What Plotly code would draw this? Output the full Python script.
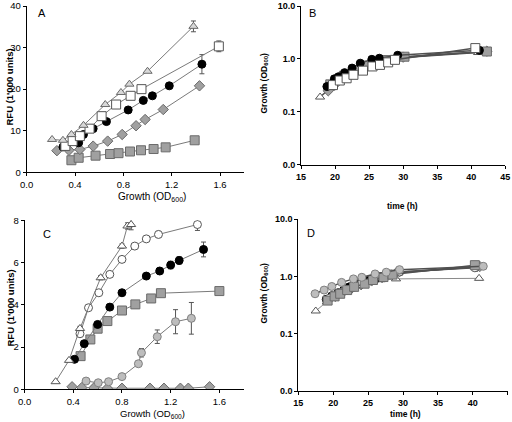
import plotly.graph_objects as go

# ---------------- Panel A: RFU vs growth ----------------
a_tri_x = [0.21, 0.30, 0.37, 0.47, 0.65, 0.78, 0.85, 1.00, 1.38]
a_tri_y = [7.9, 7.7, 9.1, 11.3, 16.3, 19.2, 21.2, 24.3, 35.1]
a_tri_e = [0, 0, 0, 0, 0, 0, 0, 0, 1.3]

a_osq_x = [0.32, 0.38, 0.44, 0.52, 0.62, 0.74, 0.86, 0.95, 1.59]
a_osq_y = [6.35, 7.5, 8.7, 10.5, 13.5, 16.3, 18.4, 20.0, 30.3]
a_osq_e = [0, 0, 0, 0, 0, 0, 0, 0, 1.3]

a_blk_x = [0.30, 0.43, 0.47, 0.55, 0.66, 0.84, 0.965, 1.04, 1.18, 1.45]
a_blk_y = [6.1, 7.1, 9.1, 10.5, 12.2, 15.0, 17.3, 18.4, 20.8, 26.0]
a_blk_e = [0, 0, 0, 0, 0, 0, 0, 0, 0, 2.3]

a_dia_x = [0.25, 0.35, 0.44, 0.55, 0.67, 0.79, 0.905, 0.98, 1.13, 1.43]
a_dia_y = [5.2, 5.3, 5.5, 6.3, 7.5, 9.1, 11.2, 12.7, 15.1, 20.8]

a_gsq_x = [0.37, 0.43, 0.57, 0.69, 0.76, 0.855, 0.946, 1.05, 1.15, 1.39]
a_gsq_y = [2.9, 3.5, 4.0, 4.4, 4.6, 5.0, 5.3, 5.6, 6.0, 7.7]

# ---------------- Panel B: growth vs time ----------------
b_tri_t = [17.8, 19.3, 20.5, 22.0, 23.5, 25.0, 27.0, 29.5, 41.0]
b_tri_y = [0.19, 0.28, 0.36, 0.47, 0.60, 0.72, 0.88, 1.05, 1.32]
b_osq_t = [19.7, 20.7, 21.7, 22.7, 24.1, 25.5, 26.6, 27.8, 28.8, 40.6]
b_osq_y = [0.32, 0.39, 0.43, 0.50, 0.60, 0.72, 0.77, 0.86, 0.96, 1.60]
b_blk_t = [18.8, 19.9, 20.5, 21.4, 22.5, 23.7, 25.4, 26.5, 29.2, 41.2]
b_blk_y = [0.30, 0.42, 0.46, 0.55, 0.67, 0.83, 0.98, 1.03, 1.17, 1.45]
b_dia_t = [19.0, 20.0, 21.0, 22.3, 23.5, 25.0, 27.0, 30.0, 42.3]
b_dia_y = [0.25, 0.33, 0.42, 0.52, 0.65, 0.78, 0.90, 1.08, 1.40]
b_gsq_t = [19.3, 20.2, 21.3, 22.8, 24.5, 26.0, 27.5, 30.2, 42.3]
b_gsq_y = [0.33, 0.40, 0.48, 0.60, 0.75, 0.85, 0.95, 1.10, 1.38]

# ---------------- Panel C: RFU vs growth ----------------
c_tri_x = [0.255, 0.365, 0.455, 0.625, 0.80, 0.845, 0.875]
c_tri_y = [0.36, 1.37, 2.88, 5.28, 6.78, 7.73, 7.80]
c_tri_e = [0, 0, 0.1, 0.1, 0.1, 0.15, 0.25]

c_oci_x = [0.455, 0.525, 0.61, 0.70, 0.80, 0.905, 1.00, 1.10, 1.42]
c_oci_y = [2.63, 3.86, 4.57, 5.44, 6.15, 6.78, 7.12, 7.33, 7.80]
c_oci_e = [0.1, 0.1, 0.1, 0.12, 0.12, 0.12, 0.12, 0.15, 0.28]

c_blk_x = [0.41, 0.49, 0.60, 0.70, 0.80, 1.00, 1.11, 1.20, 1.27, 1.47]
c_blk_y = [1.42, 2.16, 3.07, 3.89, 4.57, 5.36, 5.60, 5.88, 6.10, 6.62]
c_blk_e = [0, 0, 0, 0, 0, 0.1, 0.15, 0.18, 0.18, 0.35]

c_gsq_x = [0.46, 0.54, 0.60, 0.68, 0.80, 0.91, 1.04, 1.12, 1.60]
c_gsq_y = [1.57, 2.36, 2.87, 3.23, 3.73, 4.02, 4.30, 4.55, 4.65]

c_gci_x = [0.505, 0.605, 0.69, 0.80, 0.935, 0.96, 1.09, 1.24, 1.37]
c_gci_y = [0.39, 0.31, 0.36, 0.60, 1.21, 1.73, 2.49, 3.20, 3.36]
c_gci_e = [0, 0, 0, 0, 0, 0.2, 0.32, 0.57, 0.75]

c_dia_x = [0.39, 0.47, 0.57, 0.68, 0.80, 1.03, 1.145, 1.28, 1.345, 1.52]
c_dia_y = [0.12, 0.08, 0.07, 0.05, 0.05, 0.05, 0.05, 0.05, 0.05, 0.12]

# ---------------- Panel D: growth vs time ----------------
d_gci_t = [17.4, 18.7, 19.8, 21.2, 22.9, 24.1, 26.0, 27.6, 29.5, 41.5]
d_gci_y = [0.50, 0.58, 0.67, 0.79, 0.91, 0.97, 1.11, 1.19, 1.32, 1.51]
d_tri_t = [17.5, 19.1, 20.0, 21.5, 23.0, 25.0, 26.8, 29.0, 40.9]
d_tri_y = [0.25, 0.36, 0.45, 0.55, 0.68, 0.80, 0.88, 0.91, 0.93]
d_blk_t = [19.0, 19.8, 20.7, 21.5, 22.3, 23.5, 25.0, 26.5, 28.0, 29.5, 40.5]
d_blk_y = [0.40, 0.46, 0.52, 0.58, 0.66, 0.75, 0.85, 0.95, 1.08, 1.20, 1.45]
d_gsq_t = [19.2, 20.2, 21.0, 22.0, 23.0, 24.5, 25.7, 27.2, 28.5, 40.3]
d_gsq_y = [0.38, 0.45, 0.50, 0.58, 0.66, 0.75, 0.87, 0.98, 1.08, 1.58]
d_oci_t = [19.5, 20.5, 21.7, 22.8, 24.0, 25.5, 27.0, 28.3, 29.5, 40.3]
d_oci_y = [0.42, 0.48, 0.56, 0.64, 0.74, 0.85, 0.97, 1.10, 1.20, 1.42]
d_dia_t = [19.3, 20.3, 21.2, 22.5, 24.0, 25.5, 27.0, 29.0, 41.0]
d_dia_y = [0.40, 0.45, 0.52, 0.60, 0.72, 0.84, 0.96, 1.15, 1.50]

LINE = "#7a7a7a"
GRAY = "#a0a0a0"
GRAY_EDGE = "#6a6a6a"
LGRAY = "#bdbdbd"

STYLES = {
    "tri": dict(symbol="triangle-up", size=8, color="#d8d8d8", line=dict(color="#6a6a6a", width=1)),
    "tri_open": dict(symbol="triangle-up", size=8, color="white", line=dict(color="#555555", width=1)),
    "osq": dict(symbol="square", size=9, color="white", line=dict(color="#555555", width=1)),
    "blk": dict(symbol="circle", size=8, color="black", line=dict(color="black", width=1)),
    "dia": dict(symbol="diamond", size=8, color=GRAY, line=dict(color=GRAY_EDGE, width=1)),
    "gsq": dict(symbol="square", size=9, color=GRAY, line=dict(color=GRAY_EDGE, width=1)),
    "oci": dict(symbol="circle", size=8, color="white", line=dict(color="#555555", width=1)),
    "gci": dict(symbol="circle", size=8, color=LGRAY, line=dict(color="#808080", width=1)),
}

fig = go.Figure()


def add(x, y, style, xa, ya, err=None, lw=1, lc=LINE):
    kw = {}
    if err is not None:
        kw["error_y"] = dict(type="data", array=err, visible=True, color="#555555", thickness=1, width=2.5)
    fig.add_trace(go.Scatter(
        x=x, y=y, mode="lines+markers", xaxis=xa, yaxis=ya,
        line=dict(color=lc, width=lw), marker=STYLES[style], showlegend=False, **kw))


# A
add(a_gsq_x, a_gsq_y, "gsq", "x", "y")
add(a_dia_x, a_dia_y, "dia", "x", "y")
add(a_blk_x, a_blk_y, "blk", "x", "y", a_blk_e)
add(a_osq_x, a_osq_y, "osq", "x", "y", a_osq_e)
add(a_tri_x, a_tri_y, "tri", "x", "y", a_tri_e)
# B
BL = "#505050"
add(b_tri_t, b_tri_y, "tri_open", "x2", "y2", lw=1.5, lc=BL)
add(b_dia_t, b_dia_y, "dia", "x2", "y2", lw=1.5, lc=BL)
add(b_gsq_t, b_gsq_y, "gsq", "x2", "y2", lw=1.5, lc=BL)
add(b_blk_t, b_blk_y, "blk", "x2", "y2", lw=1.5, lc=BL)
add(b_osq_t, b_osq_y, "osq", "x2", "y2", lw=1.5, lc=BL)
# C
add(c_dia_x, c_dia_y, "dia", "x3", "y3")
add(c_gci_x, c_gci_y, "gci", "x3", "y3", c_gci_e)
add(c_gsq_x, c_gsq_y, "gsq", "x3", "y3")
add(c_blk_x, c_blk_y, "blk", "x3", "y3", c_blk_e)
add(c_oci_x, c_oci_y, "oci", "x3", "y3", c_oci_e)
add(c_tri_x, c_tri_y, "tri_open", "x3", "y3", c_tri_e)
# D
add(d_tri_t, d_tri_y, "tri_open", "x4", "y4", lc="#8a8a8a")
add(d_blk_t, d_blk_y, "blk", "x4", "y4", lw=1.5, lc=BL)
add(d_dia_t, d_dia_y, "dia", "x4", "y4", lw=1.5, lc=BL)
add(d_oci_t, d_oci_y, "oci", "x4", "y4", lw=1.5, lc=BL)
add(d_gsq_t, d_gsq_y, "gsq", "x4", "y4", lw=1.5, lc=BL)
add(d_gci_t, d_gci_y, "gci", "x4", "y4", lw=1.5, lc=BL)

W, H = 512, 422


def px(x):
    return x / W


def py(y):
    return 1 - y / H


FONT = "Liberation Sans, Arial, sans-serif"
tick_n = dict(family=FONT, size=9.5, color="black")
tick_b = dict(family=FONT, size=9, color="black", weight="bold")

base_ax = dict(showgrid=False, zeroline=False, showline=True, linecolor="black", linewidth=1,
               ticks="outside", ticklen=3, tickcolor="black", mirror=False, automargin=False)

lin_x = dict(base_ax, range=[0, 1.8], tickvals=[0, 0.4, 0.8, 1.2, 1.6],
             ticktext=["0.0", "0.4", "0.8", "1.2", "1.6"], tickfont=tick_n)
time_x = dict(base_ax, range=[15, 45], tickvals=[15, 20, 25, 30, 35, 40, 45], tickfont=tick_b)
log_y = dict(base_ax, type="log", range=[-2, 1], tickvals=[0.01, 0.1, 1, 10],
             ticktext=["0.0", "0.1", "1.0", "10.0"], tickfont=tick_b)

fig.update_layout(
    width=W, height=H, margin=dict(l=0, r=0, t=0, b=0),
    paper_bgcolor="white", plot_bgcolor="white",
    xaxis=dict(lin_x, domain=[px(26.7), px(244.2)], anchor="y"),
    yaxis=dict(base_ax, range=[0, 40], tickvals=[0, 10, 20, 30, 40], tickfont=tick_n,
               domain=[py(172.3), py(6.0)], anchor="x"),
    xaxis2=dict(time_x, domain=[px(301), px(505.3)], anchor="y2"),
    yaxis2=dict(log_y, domain=[py(164.7), py(6.0)], anchor="x2"),
    xaxis3=dict(lin_x, domain=[px(24.6), px(243.7)], anchor="y3"),
    yaxis3=dict(base_ax, range=[0, 8], tickvals=[0, 2, 4, 6, 8], tickfont=tick_n,
                domain=[py(389.3), py(220.3)], anchor="x3"),
    xaxis4=dict(time_x, domain=[px(298.3), px(507.7)], anchor="y4"),
    yaxis4=dict(log_y, domain=[py(391), py(219.3)], anchor="x4"),
)

ann = []


def text(t, x, y, size=10, bold=False, angle=0):
    ann.append(dict(text=t, x=px(x), y=py(y), xref="paper", yref="paper", showarrow=False,
                    xanchor="center", yanchor="middle", textangle=angle,
                    font=dict(family=FONT, size=size, color="black",
                              weight="bold" if bold else "normal")))


text("A", 41.7, 13.5, 11)
text("B", 312.7, 13.5, 11)
text("C", 46.7, 234.3, 11)
text("D", 311, 232.7, 11)
text("Growth (OD<sub>600</sub>)", 151.7, 197.3, 10)
text("Growth (OD<sub>600</sub>)", 152, 413.5, 9.5)
text("RFU (1'000 units)", 9.5, 87, 9.5, True, -90)
text("RFU (1'000 units)", 9.5, 308, 9.5, True, -90)
text("Growth (OD<sub>600</sub>)", 264.5, 83, 8.5, True, -90)
text("Growth (OD<sub>600</sub>)", 263.5, 293, 8.5, True, -90)
text("time (h)", 402.7, 206, 8.5, True)
text("time (h)", 405, 414, 8.5, True)
fig.update_layout(annotations=ann)

fig.write_html("out.html", config={"displayModeBar": False},
               post_script="document.body.style.margin='0';")
